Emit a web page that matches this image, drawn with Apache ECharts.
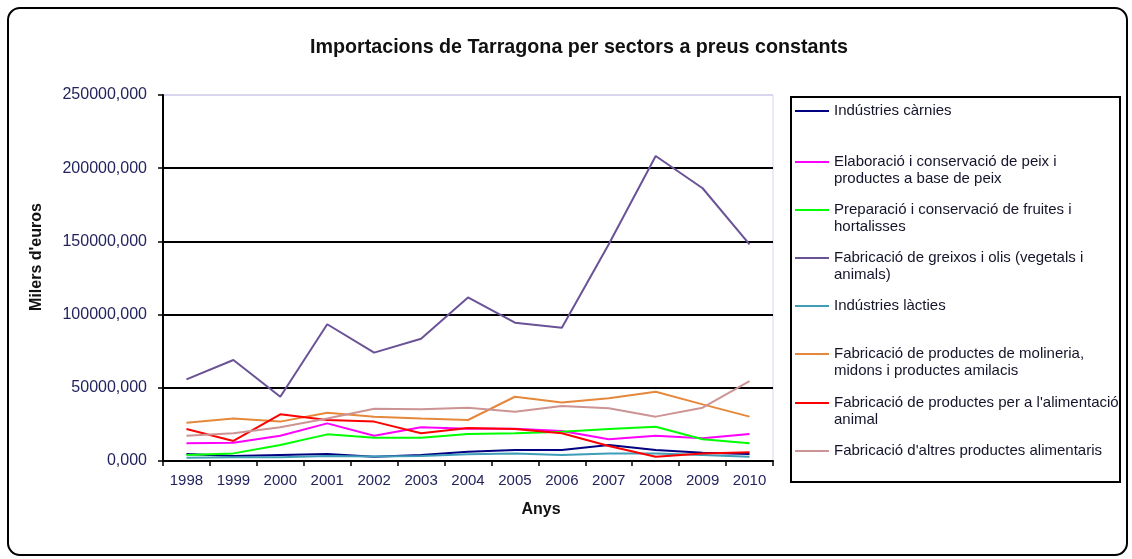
<!DOCTYPE html>
<html>
<head>
<meta charset="utf-8">
<script src="https://cdn.jsdelivr.net/npm/echarts@6/dist/echarts.min.js"></script>
<style>
    body {margin: 0; background: #fff;}
    #chart {width: 1132px; height: 559px;}
</style>
</head>
<body>
<div id="chart"></div>
<script>
// valors en milers d'euros
var anys = ['1998','1999','2000','2001','2002','2003','2004','2005','2006','2007','2008','2009','2010'];
var yTicks = [0, 50000, 100000, 150000, 200000, 250000];
var carnies = [4800,3400,4100,4800,2900,4100,6400,7500,7500,10900,7500,5700,4800];
var peix = [12200,12500,17300,25700,17300,23000,22000,22000,20500,14800,17300,15500,18400];
var fruites = [4100,5200,10900,18200,15900,15900,18400,18900,20000,21900,23400,14800,12100];
var greixos = [55800,69000,43900,93400,74000,83500,111700,94500,91000,148000,208300,186300,148000];
var lacties = [2300,2500,2500,3400,3000,3400,4600,5200,4100,5200,5200,4100,2900];
var molineria = [26200,29100,26900,33000,30300,29000,28000,43900,40000,42800,47300,38700,30300];
var alimentacio = [21900,13700,31900,28000,26900,18900,22600,21900,18900,10200,2900,5200,5900];
var altres = [17300,18900,23000,29100,35700,35300,36400,33700,37600,36000,30300,36400,54600];

var noms = [
    'Indústries càrnies',
    'Elaboració i conservació de peix i productes a base de peix',
    'Preparació i conservació de fruites i hortalisses',
    'Fabricació de greixos i olis (vegetals i animals)',
    'Indústries làcties',
    'Fabricació de productes de molineria, midons i productes amilacis',
    'Fabricació de productes per a l\'alimentació animal',
    'Fabricació d\'altres productes alimentaris'
];
var etiquetes = [
    'Indústries càrnies',
    'Elaboració i conservació de peix i\nproductes a base de peix',
    'Preparació i conservació de fruites i\nhortalisses',
    'Fabricació de greixos i olis (vegetals i\nanimals)',
    'Indústries làcties',
    'Fabricació de productes de molineria,\nmidons i productes amilacis',
    'Fabricació de productes per a l\'alimentació\nanimal',
    'Fabricació d\'altres productes alimentaris'
];
var colors = ['#000080','#ff00ff','#00ff00','#6a5296','#3f9db8','#e5883c','#ff0000','#cc9494'];
var dades = [carnies, peix, fruites, greixos, lacties, molineria, alimentacio, altres];
var legendY = [110, 161, 209, 257, 305, 353, 402, 450];

var series = [];
var legends = [];
for (var i = 0; i < noms.length; i++) {
    series.push({
        name: noms[i],
        type: 'line',
        symbol: 'none',
        data: dades[i],
        lineStyle: {width: 2, color: colors[i]},
        itemStyle: {color: colors[i]}
    });
    var dosLinies = etiquetes[i].indexOf('\n') >= 0;
    // linia buida al davant perque la icona quedi a l'altura de la primera linia
    var txt = dosLinies ? '\n' + etiquetes[i] : etiquetes[i];
    legends.push({
        data: [{name: noms[i], icon: 'rect'}],
        left: 795,
        top: dosLinies ? legendY[i] - 24.5 : legendY[i] - 7.5,
        padding: 0,
        itemWidth: 34,
        itemHeight: 2,
        selectedMode: false,
        formatter: (function (t) { return function () { return t; }; })(txt),
        textStyle: {fontFamily: 'Liberation Sans', fontSize: 15, color: '#14142a', lineHeight: 17}
    });
}

var myChart = echarts.init(document.getElementById('chart'));
option = {
    backgroundColor: '#fff',
    animation: false,
    title: {
        text: 'Importacions de Tarragona per sectors a preus constants',
        left: 305,
        top: 33,
        textStyle: {fontFamily: 'Liberation Sans', fontSize: 19.7, fontWeight: 'bold', color: '#111'}
    },
    graphic: [
        {type: 'rect', shape: {x: 8, y: 8, width: 1119, height: 547, r: 12}, style: {fill: 'none', stroke: '#000', lineWidth: 2}, z: -1},
        {type: 'rect', shape: {x: 791, y: 97, width: 329, height: 385}, style: {fill: 'none', stroke: '#000', lineWidth: 2}}
    ],
    legend: legends,
    grid: {
        left: 163, right: 359, top: 95, bottom: 98,
        show: true, borderColor: '#d8d6ee', borderWidth: 1, backgroundColor: '#fff'
    },
    xAxis: {
        type: 'category',
        data: anys,
        name: 'Anys',
        nameLocation: 'middle',
        nameGap: 41,
        nameTextStyle: {fontFamily: 'Liberation Sans', fontSize: 16, fontWeight: 'bold', color: '#111', padding: [0, 0, 0, 146]},
        axisLine: {lineStyle: {color: '#000', width: 2}},
        axisTick: {show: true, length: 5, lineStyle: {color: '#000', width: 1.5}},
        axisLabel: {margin: 12, fontFamily: 'Liberation Sans', fontSize: 15, color: '#23235e'}
    },
    yAxis: {
        type: 'value',
        min: yTicks[0],
        max: yTicks[yTicks.length - 1],
        interval: yTicks[1] - yTicks[0],
        name: 'Milers d\'euros',
        nameLocation: 'middle',
        nameGap: 118,
        nameRotate: 90,
        nameTextStyle: {fontFamily: 'Liberation Sans', fontSize: 16, fontWeight: 'bold', color: '#111', padding: [0, 0, 0, 42]},
        axisLine: {show: true, lineStyle: {color: '#000', width: 2}},
        axisTick: {show: true, length: 5, lineStyle: {color: '#000', width: 1.5}},
        axisLabel: {
            margin: 16,
            fontFamily: 'Liberation Sans', fontSize: 16, color: '#23235e',
            formatter: function (v) { return v.toFixed(3).replace('.', ','); }
        },
        splitLine: {lineStyle: {color: ['#000', '#000', '#000', '#000', '#000', '#d8d6ee'], width: 2}}
    },
    series: series
};
myChart.setOption(option);
</script>
</body>
</html>
